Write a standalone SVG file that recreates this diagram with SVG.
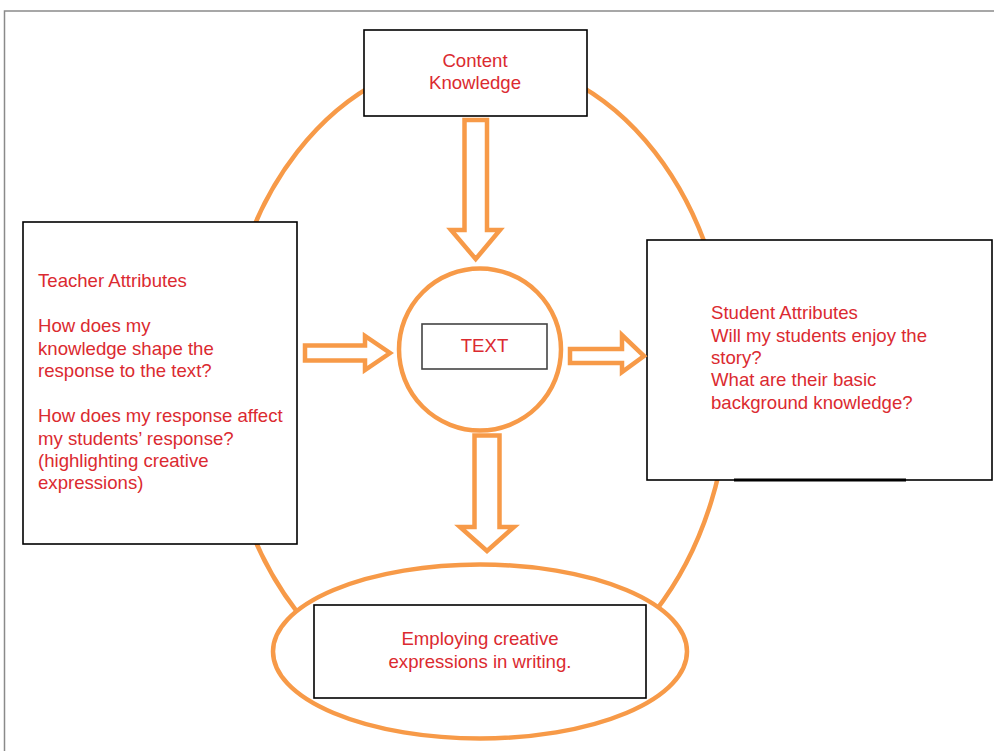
<svg xmlns="http://www.w3.org/2000/svg" width="994" height="751" viewBox="0 0 994 751">
<style>
.orng{fill:none;stroke:#f79a48;stroke-width:4.5}
.orngw{fill:#ffffff;stroke:#f79a48;stroke-width:4.5}
.box{fill:#ffffff;stroke:#000000;stroke-width:1.6}
.arrow{fill:#ffffff;stroke:#f79a48;stroke-width:4.5;stroke-linejoin:miter}
.t{font-family:"Liberation Sans",Arial,sans-serif;font-size:18.6px;fill:#db2a30}
.c{text-anchor:middle}
</style>
<rect width="994" height="751" fill="#ffffff"/>
<path d="M4.5 751 V11 H994" fill="none" stroke="#8a8a8a" stroke-width="1.5"/>
<g id="cycle">
<ellipse class="orng" cx="476" cy="382" rx="253" ry="325"/>
</g>
<g id="outcome">
<ellipse class="orngw" cx="480" cy="651.5" rx="207" ry="87"/>
<rect class="box" x="314" y="605" width="332" height="93"/>
<text class="t c" x="480" y="645">Employing creative</text>
<text class="t c" x="480" y="668">expressions in writing.</text>
</g>
<g id="content-knowledge">
<rect class="box" x="364" y="30" width="223" height="86"/>
<text class="t c" x="475" y="67">Content</text>
<text class="t c" x="475" y="89">Knowledge</text>
</g>
<g id="teacher">
<rect class="box" x="23" y="222" width="274" height="322"/>
<text class="t" x="38" y="287">Teacher Attributes</text>
<text class="t" x="38" y="332">How does my</text>
<text class="t" x="38" y="354.5">knowledge shape the</text>
<text class="t" x="38" y="377">response to the text?</text>
<text class="t" x="38" y="422">How does my response affect</text>
<text class="t" x="38" y="444.5">my students’ response?</text>
<text class="t" x="38" y="467">(highlighting creative</text>
<text class="t" x="38" y="489">expressions)</text>
</g>
<g id="student">
<rect class="box" x="647" y="240" width="345" height="240"/>
<line x1="734" y1="480" x2="906" y2="480" stroke="#000000" stroke-width="3"/>
<text class="t" x="711" y="318.5">Student Attributes</text>
<text class="t" x="711" y="341.5">Will my students enjoy the</text>
<text class="t" x="711" y="363.5">story?</text>
<text class="t" x="711" y="386">What are their basic</text>
<text class="t" x="711" y="408.5">background knowledge?</text>
</g>
<g id="text-node">
<circle class="orngw" cx="480" cy="349.5" r="81"/>
<rect x="422" y="324" width="125" height="45" fill="#ffffff" stroke="#444444" stroke-width="1.6"/>
<text class="t c" x="484.5" y="352">TEXT</text>
</g>
<g id="connectors">
<path class="arrow" d="M464.5 120 H487 V230 H500 L475.7 259 L451 230 H464.5 Z"/>
<path class="arrow" d="M474.5 435.5 H499.5 V527 H514 L487 551 L460 527 H474.5 Z"/>
<path class="arrow" d="M305 345.5 H365 V336 L390 353 L365 370 V360.5 H305 Z"/>
<path class="arrow" d="M570 349 H622 V335 L644 356 L622 372 V363 H570 Z"/>
</g>
</svg>
